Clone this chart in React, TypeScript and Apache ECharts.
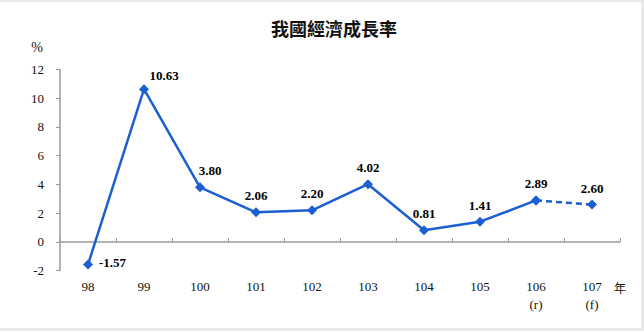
import React, { useEffect, useRef } from "react";
import * as echarts from "echarts";

const categories = ["98", "99", "100", "101", "102", "103", "104", "105", "106\n(r)", "107\n(f)"];
const actualValues = [-1.57, 10.63, 3.8, 2.06, 2.2, 4.02, 0.81, 1.41, 2.89];
const forecastValues = [2.89, 2.6];
const yTicks = { min: -2, max: 12, interval: 2 };

const BLUE = "#1c5fd2";
const SERIF = "Liberation Serif";
const CJK = "Noto Sans CJK TC";

export default function App() {
  const ref = useRef<HTMLDivElement>(null);
  useEffect(() => {
    if (!ref.current) return;
    const chart = echarts.init(ref.current, undefined, { renderer: "svg" });
    const n = categories.length;
    const solidData = categories.map((_, i) => {
      if (i >= actualValues.length) return "-";
      const v = actualValues[i];
      let label: any = { show: true };
      if (i === 0) label = { show: true, position: "right", distance: 6, offset: [0, -2] };
      if (i === 1) label = { show: true, position: "top", offset: [20, 3] };
      if (i === 2) label = { show: true, position: "top", offset: [10, 0] };
      return { value: v, label };
    });
    const fcStart = n - forecastValues.length;
    const dashData = categories.map((_, i) => {
      if (i < fcStart) return "-";
      const v = forecastValues[i - fcStart];
      return { value: v, label: { show: i === n - 1 } };
    });
    const labelStyle = {
      fontFamily: SERIF,
      fontWeight: "bold",
      fontSize: 13,
      color: "#000",
      formatter: (p: any) => Number(p.value).toFixed(2),
    };
    chart.setOption({
      animation: false,
      backgroundColor: "#fff",
      title: {
        text: "我國經濟成長率",
        left: 329,
        top: 14,
        textAlign: "center",
        textStyle: {
          fontFamily: CJK,
          fontWeight: "bold",
          fontSize: 18,
          color: "#111",
        },
      },
      grid: { left: 60, right: 24, top: 69.5, bottom: 60.3, containLabel: false, outerBoundsMode: "none" },
      xAxis: {
        type: "category",
        data: categories,
        boundaryGap: true,
        axisLine: { show: true, onZero: true, lineStyle: { color: "#9a9a9a", width: 1.5 } },
        axisTick: { show: true, inside: true, length: 4, lineStyle: { color: "#9a9a9a" } },
        axisLabel: {
          margin: 7,
          fontFamily: SERIF,
          fontSize: 13,
          lineHeight: 18,
          verticalAlign: "top",
          color: "#111",
          interval: 0,
        },
      },
      yAxis: {
        type: "value",
        min: yTicks.min,
        max: yTicks.max,
        interval: yTicks.interval,
        splitLine: { show: false },
        axisLine: { show: true, lineStyle: { color: "#9a9a9a", width: 1.5 } },
        axisTick: { show: true, length: 4, lineStyle: { color: "#9a9a9a" } },
        axisLabel: { margin: 16, fontFamily: SERIF, fontSize: 13, color: "#111" },
      },
      graphic: [
        { type: "rect", shape: { x: 0, y: 0, width: 644, height: 2 }, style: { fill: "#e9e9e9" }, silent: true },
        { type: "rect", shape: { x: 641, y: 0, width: 3, height: 331 }, style: { fill: "#e9e9e9" }, silent: true },
        { type: "rect", shape: { x: 0, y: 328, width: 644, height: 3 }, style: { fill: "#e9e9e9" }, silent: true },
        {
          type: "text",
          x: 37,
          y: 47,
          style: { text: "%", fontFamily: SERIF, fontSize: 14, fill: "#111", align: "center", verticalAlign: "middle" },
        },
        {
          type: "text",
          x: 620,
          y: 287,
          style: { text: "年", fontFamily: CJK, fontSize: 12, fill: "#111", align: "center", verticalAlign: "middle" },
        },
      ],
      series: [
        {
          type: "line",
          data: solidData,
          symbol: "diamond",
          symbolSize: 10,
          lineStyle: { color: BLUE, width: 2.5 },
          itemStyle: { color: BLUE },
          label: labelStyle,
          z: 3,
        },
        {
          type: "line",
          data: dashData,
          symbol: "diamond",
          symbolSize: 10,
          lineStyle: { color: BLUE, width: 2.5, type: [6, 4] },
          itemStyle: { color: BLUE },
          label: labelStyle,
          z: 2,
        },
      ],
    });
    return () => chart.dispose();
  }, []);
  return <div ref={ref} style={{ position: "fixed", left: 0, top: 0, width: 644, height: 331 }} />;
}
